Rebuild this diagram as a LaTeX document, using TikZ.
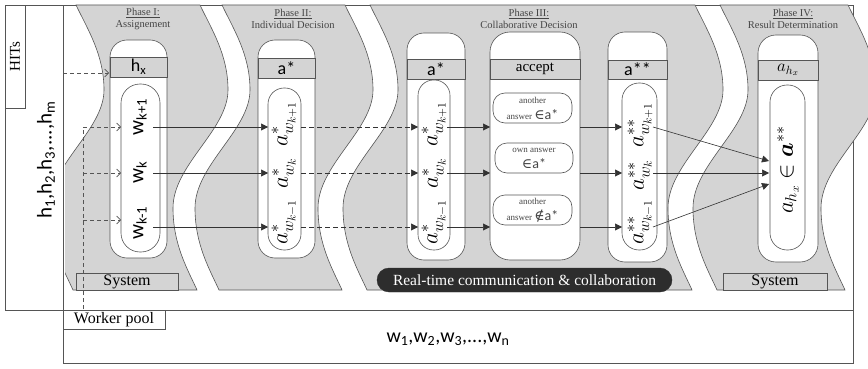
\RequirePackage{fix-cm}
\documentclass[tikz,border=0pt]{standalone}
\usepackage{amsmath}
\usepackage{fontspec}
\setmainfont{Liberation Serif}
\newfontfamily\carl{Carlito}
\newfontfamily\dvs{DejaVu Serif}
\usetikzlibrary{arrows.meta}
\definecolor{pg}{RGB}{212,212,212}
\definecolor{ln}{RGB}{85,85,85}
\definecolor{dk}{RGB}{45,45,45}
\definecolor{tg}{RGB}{70,70,70}
\newcommand\fsz[1]{\fontsize{#1}{#1}\selectfont}
\tikzset{
 rs/.style={insert path={.. controls ({#1+12},30) and ({#1+28},55) .. ({#1+28},90) .. controls ({#1+28},130) and ({#1-27},165) .. ({#1-27},208) .. controls ({#1-27},245) and ({#1-12},270) .. ({#1-3},290)}},
 ls/.style={insert path={.. controls ({#1-12},270) and ({#1-27},245) .. ({#1-27},208) .. controls ({#1-27},165) and ({#1+28},130) .. ({#1+28},90) .. controls ({#1+28},55) and ({#1+12},30) .. (#1,5)}},
 phase/.style={fill=pg, draw=ln, line width=0.6pt},
 frame/.style={draw=ln, line width=0.6pt},
 cap/.style={fill=white, draw=ln, line width=0.6pt, rounded corners=#1, inner sep=0pt},
 band/.style={fill=pg, draw=ln, line width=0.6pt, inner sep=0pt},
 sysbox/.style={fill=pg, draw=ln, line width=0.6pt, inner sep=0pt, font=\fsz{16}},
 small/.style={fill=white, draw=ln, line width=0.6pt, rounded corners=12pt, inner sep=0pt, align=center, text=tg},
 title/.style={align=center, text=tg, font=\fsz{10.5}, inner sep=0pt},
 lab/.style={rotate=90, inner sep=0pt},
 mlab/.style={rotate=90, inner sep=0pt, font=\fontsize{23}{24}\selectfont},
 dsharrow/.style={draw=ln, line width=0.6pt, dash pattern=on 4pt off 3pt, -{Straight Barb[length=4pt,width=8pt]}},
 dshline/.style={draw=ln, line width=0.6pt, dash pattern=on 4pt off 3pt},
 dshfill/.style={draw=black!80, line width=0.6pt, dash pattern=on 5pt off 3pt, -{Triangle[length=7pt,width=7pt]}},
 solid arrow/.style={draw=black!80, line width=0.6pt, -{Triangle[length=7pt,width=7pt]}},
}
\begin{document}
\begin{tikzpicture}[x=1pt,y=-1pt]
\useasboundingbox (0,0) rectangle (868,369);
\fill[white] (0,0) rectangle (868,369);
% outer frames
\draw[frame] (5,5) rectangle (853,310);
\draw[frame] (63,5) rectangle (853,363);
\node[frame, minimum width=20pt, minimum height=103pt, inner sep=0pt] (hitsbox) at (15,56.5) {};
\node[lab, font=\fsz{15}] (hitslab) at (15,56.5) {HITs};
\node[lab, font=\carl\fsz{21}] (hlist) at (46,160) {h\textsubscript{1},h\textsubscript{2},h\textsubscript{3},...,h\textsubscript{m}};
\node[frame, fill=white, minimum width=102pt, minimum height=19pt, inner sep=0pt, font=\fsz{16}] (wpbox) at (114,319.5) {Worker pool};
\node[font=\carl\fsz{20}, inner sep=0pt] (wlist) at (448,339) {w\textsubscript{1},w\textsubscript{2},w\textsubscript{3},...,w\textsubscript{n}};
% phases
\begin{scope}
\clip (65,0) rectangle (868,369);
\path[phase] (76,5) -- (200,5) [rs=200] -- (73,290) [ls=76] -- cycle;
\path[phase] (222,5) -- (345,5) [rs=345] -- (219,290) [ls=222] -- cycle;
\path[phase] (370,5) -- (695,5) [rs=695] -- (367,290) [ls=370] -- cycle;
\path[phase] (720,5) -- (848,5) [rs=848] -- (717,290) [ls=720] -- cycle;
\end{scope}
% titles
\node[title] (t1) at (143,19) {\underline{Phase I:}\\[1pt]Assignement};
\node[title] (t2) at (293,19) {\underline{Phase II:}\\[1pt]Individual Decision};
\node[title] (t3) at (529,19) {\underline{Phase III:}\\[1pt]Collaborative Decision};
\node[title] (t4) at (793,19) {\underline{Phase IV:}\\[1pt]Result Determination};
% Phase I column
\node[cap=17pt, minimum width=57pt, minimum height=218pt] (o1) at (138.5,149) {};
\node[band, minimum width=57pt, minimum height=20pt, font=\carl\fsz{18}] (b1) at (138.5,67) {h\textsubscript{x}};
\node[cap=19pt, minimum width=39pt, minimum height=168pt] (i1) at (140.5,168) {};
\node[lab, font=\carl\fsz{21}] (w1) at (140,117) {w\textsubscript{k+1}};
\node[lab, font=\carl\fsz{21}] (w2) at (140,172) {w\textsubscript{k}};
\node[lab, font=\carl\fsz{21}] (w3) at (140,223) {w\textsubscript{k-1}};
\node[sysbox, minimum width=102pt, minimum height=17pt] (sys1) at (127,281.5) {System};
% Phase II column
\node[cap=17pt, minimum width=57pt, minimum height=218pt] (o2) at (286.5,149) {};
\node[band, minimum width=57pt, minimum height=20pt, font=\carl\fsz{18}] (b2) at (286.5,68) {a*};
\node[cap=16pt, minimum width=33pt, minimum height=162pt] (i2) at (284.5,169) {};
\node[mlab] (a21) at (284,124) {$a^*_{w_{k+1}}$};
\node[mlab] (a22) at (284,173) {$a^*_{w_k}$};
\node[mlab] (a23) at (284,222) {$a^*_{w_{k-1}}$};
% Phase III column A
\node[cap=17pt, minimum width=58pt, minimum height=227pt] (o3) at (436,146.5) {};
\node[band, minimum width=58pt, minimum height=20pt, font=\carl\fsz{18}] (b3) at (436,69) {a*};
\node[cap=15.5pt, minimum width=32pt, minimum height=170pt] (i3) at (434,165) {};
\node[mlab] (a31) at (434,124) {$a^*_{w_{k+1}}$};
\node[mlab] (a32) at (434,173) {$a^*_{w_k}$};
\node[mlab] (a33) at (434,222) {$a^*_{w_{k-1}}$};
% accept column
\node[cap=20pt, minimum width=90pt, minimum height=228pt] (oacc) at (535,146) {};
\node[band, minimum width=90pt, minimum height=20pt, font=\fsz{15}] (bacc) at (535,69) {accept};
\node[small, minimum width=79pt, minimum height=30pt] (s1) at (532.5,108) {\fontsize{9}{10}\selectfont another\\[4pt]\fontsize{9}{10}\selectfont answer {\fsz{14}{\dvs ∈}{\carl a*}}};
\node[small, minimum width=78pt, minimum height=30pt] (s2) at (534,158) {\fontsize{9}{10}\selectfont own answer\\[4pt]{\fsz{14}{\dvs ∈}{\carl a*}}};
\node[small, minimum width=79pt, minimum height=30pt] (s3) at (532.5,210) {\fontsize{9}{10}\selectfont another\\[4pt]\fontsize{9}{10}\selectfont answer {\fsz{14}{\dvs ∉}{\carl a*}}};
% column C
\node[cap=17pt, minimum width=59pt, minimum height=230pt] (o4) at (637.5,147) {};
\node[band, minimum width=59pt, minimum height=19pt, font=\carl\fsz{18}] (b4) at (637.5,69.5) {a**};
\node[cap=17pt, minimum width=35pt, minimum height=167pt] (i4) at (639.5,166.5) {};
\node[mlab] (a41) at (640,125) {$a^{**}_{w_{k+1}}$};
\node[mlab] (a42) at (640,175) {$a^{**}_{w_k}$};
\node[mlab] (a43) at (640,222) {$a^{**}_{w_{k-1}}$};
% real-time box
\node[fill=dk, draw=dk, rounded corners=12pt, minimum width=295pt, minimum height=24pt, inner sep=0pt, text=white, font=\fsz{15.5}] (rt) at (524.5,280) {Real-time communication \& collaboration};
% Phase IV column
\node[cap=18pt, minimum width=60pt, minimum height=227pt] (o5) at (788,148.5) {};
\node[band, minimum width=60pt, minimum height=20pt, font=\fsz{17}] (b5) at (788,70) {$a_{h_x}$};
\node[cap=17pt, minimum width=35pt, minimum height=165pt] (i5) at (787.5,167.5) {};
\node[mlab] (res) at (788,170) {$a_{h_x}\in\boldsymbol{a}^{**}$};
\node[sysbox, minimum width=104pt, minimum height=17pt] (sys4) at (775,281.5) {System};
% coordinates
\coordinate (hout) at (63,73);
\coordinate (hin) at (109,73);
\coordinate (wp) at (83,309);
\coordinate (j1) at (83,127);
\coordinate (j2) at (83,173);
\coordinate (j3) at (83,220);
\coordinate (k1) at (121,127);
\coordinate (k2) at (121,173);
\coordinate (k3) at (121,220);
\foreach \r/\y in {1/127,2/173,3/227}{
  \coordinate (p1\r) at (153,\y);
  \coordinate (q2\r) at (268,\y);
  \coordinate (p2\r) at (301,\y);
  \coordinate (q3\r) at (418,\y);
  \coordinate (p3\r) at (447,\y);
  \coordinate (qa\r) at (490,\y);
  \coordinate (pa\r) at (580,\y);
  \coordinate (q4\r) at (622,\y);
  \coordinate (p4\r) at (653,\y);
}
\coordinate (q51) at (769,161);
\coordinate (q52) at (769,173);
\coordinate (q53) at (769,184);
% connectors
\draw[dsharrow] (hout) -- (hin);
\draw[dshline] (wp) -- (j1);
\draw[dsharrow] (j1) -- (k1);
\draw[dsharrow] (j2) -- (k2);
\draw[dsharrow] (j3) -- (k3);
\foreach \r in {1,2,3}{
  \draw[solid arrow] (p1\r) -- (q2\r);
  \draw[dshfill] (p2\r) -- (q3\r);
  \draw[solid arrow] (p3\r) -- (qa\r);
  \draw[solid arrow] (pa\r) -- (q4\r);
  \draw[solid arrow] (p4\r) -- (q5\r);
}
\end{tikzpicture}
\end{document}
